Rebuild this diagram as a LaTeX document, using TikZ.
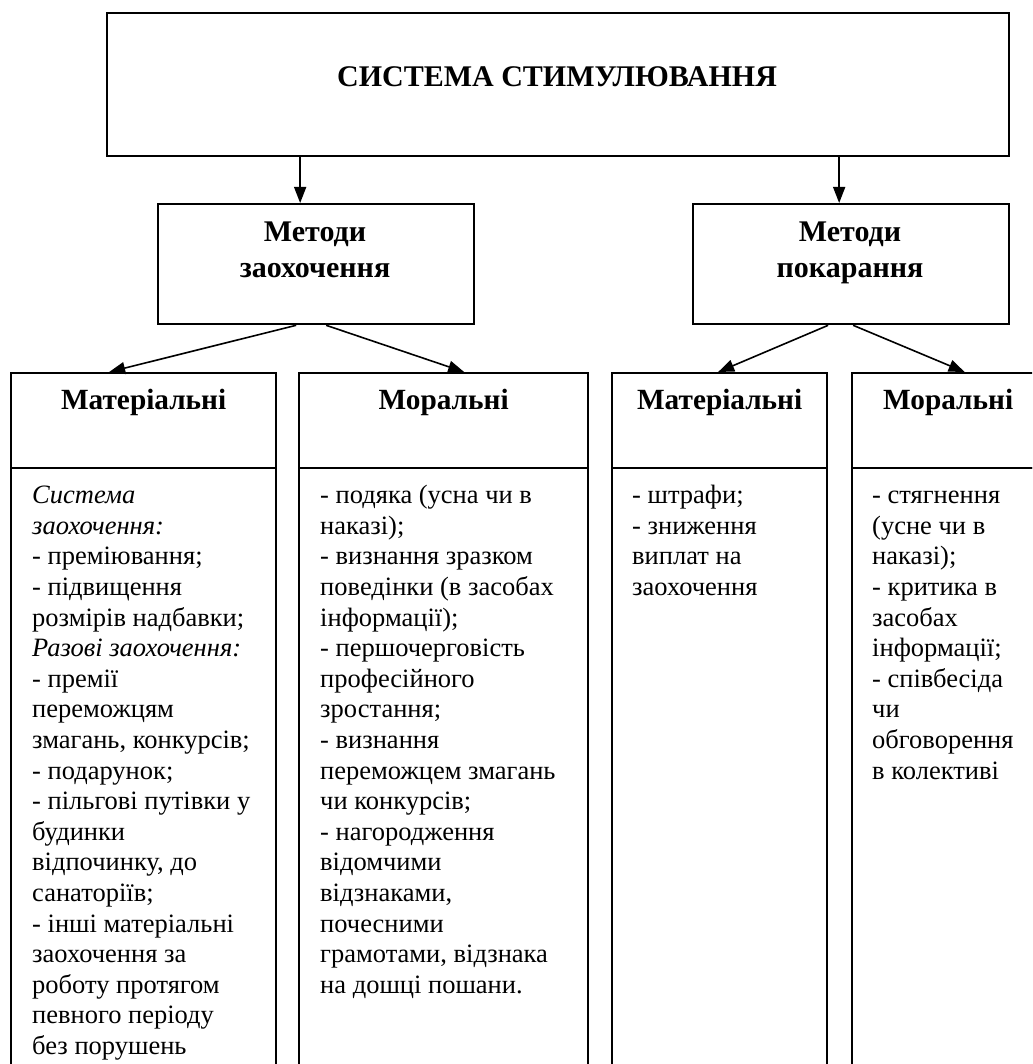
\documentclass[tikz,border=0pt]{standalone}
\usepackage{fontspec}
\setmainfont{Liberation Serif}
\usetikzlibrary{arrows.meta,calc}
\begin{document}
\begin{tikzpicture}[x=1pt,y=-1pt,
 box/.style={draw,line width=2.3pt,inner sep=0pt,anchor=north west},
 hd/.style={font=\fontsize{30}{36}\selectfont\bfseries,align=center,inner sep=0pt},
 sh/.style={font=\fontsize{29.3}{36}\selectfont\bfseries,align=center,inner sep=0pt},
 bd/.style={font=\fontsize{26.5}{30.6}\selectfont,align=left,anchor=north west,inner sep=0pt},
 arr/.style={line width=1.6pt,-{Triangle[length=16pt,width=12pt]}}]
\clip (0,0) rectangle (1032,1064);
\fill[white] (0,0) rectangle (1032,1064);
% top
\node[box,minimum width=902pt,minimum height=143pt] (top) at (106,12) {};
\node[hd] (title) at (557,77) {СИСТЕМА СТИМУЛЮВАННЯ};
% middle
\node[box,minimum width=316pt,minimum height=120pt] (mz) at (157,203) {};
\node[hd] (mzt) at (315,252) {\strut Методи\\\strut заохочення};
\node[box,minimum width=316pt,minimum height=120pt] (mp) at (692,203) {};
\node[hd] (mpt) at (850,252) {\strut Методи\\\strut покарання};
% lower headers
\node[box,minimum width=265pt,minimum height=95pt] (h1) at (10,372) {};
\node[box,minimum width=289pt,minimum height=95pt] (h2) at (298,372) {};
\node[box,minimum width=215pt,minimum height=95pt] (h3) at (611,372) {};
\node[box,minimum width=230pt,minimum height=95pt] (h4) at (851,372) {};
\node[sh] (h1t) at ([yshift=-30pt]h1.north) {Матеріальні};
\node[sh] (h2t) at ([yshift=-30pt]h2.north) {Моральні};
\node[sh] (h3t) at ([yshift=-30pt]h3.north) {Матеріальні};
\node[sh] (h4t) at ([yshift=-30pt,xshift=-19pt]h4.north) {Моральні};
% lower bodies
\node[box,minimum width=265pt,minimum height=640pt] (b1) at (10,467) {};
\node[box,minimum width=289pt,minimum height=640pt] (b2) at (298,467) {};
\node[box,minimum width=215pt,minimum height=640pt] (b3) at (611,467) {};
\node[box,minimum width=230pt,minimum height=640pt] (b4) at (851,467) {};
% body texts
\node[bd] (t1) at (32,482) {\strut\textit{Система}\\
\textit{заохочення:}\\
- преміювання;\\
- підвищення\\
розмірів надбавки;\\
\textit{Разові заохочення:}\\
- премії\\
переможцям\\
змагань, конкурсів;\\
- подарунок;\\
- пільгові путівки у\\
будинки\\
відпочинку, до\\
санаторіїв;\\
- інші матеріальні\\
заохочення за\\
роботу протягом\\
певного періоду\\
без порушень};
\node[bd] (t2) at (320,482) {\strut- подяка (усна чи в\\
наказі);\\
- визнання зразком\\
поведінки (в засобах\\
інформації);\\
- першочерговість\\
професійного\\
зростання;\\
- визнання\\
переможцем змагань\\
чи конкурсів;\\
- нагородження\\
відомчими\\
відзнаками,\\
почесними\\
грамотами, відзнака\\
на дошці пошани.};
\node[bd] (t3) at (632,482) {\strut- штрафи;\\
- зниження\\
виплат на\\
заохочення};
\node[bd] (t4) at (872,482) {\strut- стягнення\\
(усне чи в\\
наказі);\\
- критика в\\
засобах\\
інформації;\\
- співбесіда\\
чи\\
обговорення\\
в колективі};
% arrows
\draw[arr] ([xshift=-16pt]mz.north |- top.south) -- ([xshift=-16pt]mz.north);
\draw[arr] ([xshift=-12pt]mp.north |- top.south) -- ([xshift=-12pt]mp.north);
\draw[arr] ([xshift=-20pt]mz.south) -- ([xshift=-34.5pt]h1.north);
\draw[arr] ([xshift=10pt]mz.south) -- ([xshift=20.5pt]h2.north);
\draw[arr] ([xshift=-23pt]mp.south) -- ([xshift=-1.5pt]h3.north);
\draw[arr] ([xshift=2pt]mp.south) -- ([xshift=-2.5pt]h4.north);
\end{tikzpicture}
\end{document}
